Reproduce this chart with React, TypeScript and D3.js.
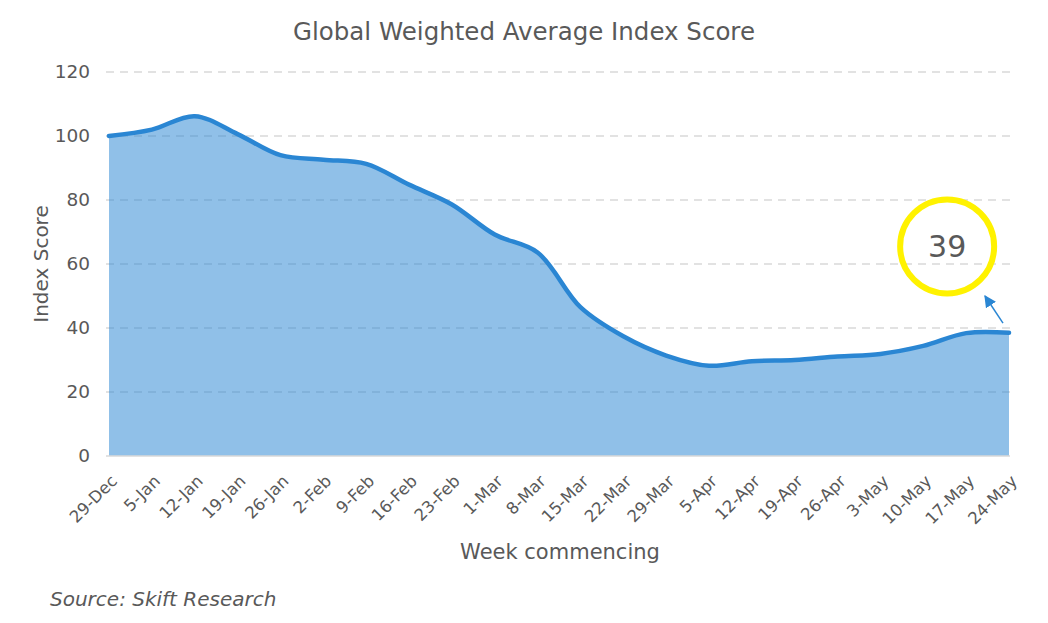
import React, { useEffect, useRef } from "react";
import * as d3 from "d3";

const weeks = [
  "29-Dec", "5-Jan", "12-Jan", "19-Jan", "26-Jan", "2-Feb", "9-Feb", "16-Feb",
  "23-Feb", "1-Mar", "8-Mar", "15-Mar", "22-Mar", "29-Mar", "5-Apr", "12-Apr",
  "19-Apr", "26-Apr", "3-May", "10-May", "17-May", "24-May",
];
const scores = [
  100, 102, 106.2, 100.6, 94, 92.6, 91.3, 84.8, 78.6, 69.2, 63.6, 46.5,
  37.4, 31.4, 28.2, 29.6, 30, 31.1, 31.9, 34.4, 38.4, 38.5,
];
const yTicks = [0, 20, 40, 60, 80, 100, 120];
const calloutLabel = "39";

const FONT = "'DejaVu Sans', 'Noto Sans', sans-serif";
const GREY = "#595959";

const App: React.FC = () => {
  const svgRef = useRef<SVGSVGElement>(null);

  useEffect(() => {
    document.body.style.margin = "0";
    if (!svgRef.current) return;
    const width = 1048;
    const height = 623;
    const svg = d3.select(svgRef.current);
    svg.selectAll("*").remove();

    const x = d3.scalePoint<string>().domain(weeks).range([109, 1009]);
    const y = d3.scaleLinear().domain([0, 120]).range([456, 72]);

    // gridlines (under the translucent area)
    svg.append("g")
      .selectAll("line")
      .data(yTicks.filter(t => t > 0))
      .enter().append("line")
      .attr("x1", 106).attr("x2", 1010)
      .attr("y1", d => y(d)).attr("y2", d => y(d))
      .attr("stroke", "#d9d9d9")
      .attr("stroke-width", 1.6)
      .attr("stroke-dasharray", "8,6");

    const pts = weeks.map((w, i) => [x(w)!, scores[i]] as [number, number]);

    const area = d3.area<[number, number]>()
      .x(d => d[0]).y0(y(0)).y1(d => y(d[1]))
      .curve(d3.curveCatmullRom.alpha(0.5));
    svg.append("path")
      .attr("d", area(pts))
      .attr("fill", "#2a86d3")
      .attr("fill-opacity", 0.52);

    // baseline
    svg.append("line")
      .attr("x1", 106).attr("x2", 1010)
      .attr("y1", y(0)).attr("y2", y(0))
      .attr("stroke", "#d9d9d9")
      .attr("stroke-width", 1.6);

    const line = d3.line<[number, number]>()
      .x(d => d[0]).y(d => y(d[1]))
      .curve(d3.curveCatmullRom.alpha(0.5));
    svg.append("path")
      .attr("d", line(pts))
      .attr("fill", "none")
      .attr("stroke", "#2a86d3")
      .attr("stroke-width", 4.5)
      .attr("stroke-linecap", "round");

    // y tick labels
    svg.append("g")
      .selectAll("text")
      .data(yTicks)
      .enter().append("text")
      .attr("x", 90).attr("y", d => y(d))
      .attr("dy", "0.35em")
      .attr("text-anchor", "end")
      .attr("font-family", FONT).attr("font-size", 18.5)
      .attr("fill", GREY)
      .text(d => d);

    // x tick labels
    svg.append("g")
      .selectAll("text")
      .data(weeks)
      .enter().append("text")
      .attr("transform", d => `translate(${x(d)! + 1},${474}) rotate(-45)`)
      .attr("text-anchor", "end")
      .attr("dy", "0.7em")
      .attr("font-family", FONT).attr("font-size", 16.5)
      .attr("fill", GREY)
      .text(d => d);

    svg.append("text")
      .attr("x", 524).attr("y", 40)
      .attr("text-anchor", "middle")
      .attr("font-family", FONT).attr("font-size", 24.5)
      .attr("fill", GREY)
      .text("Global Weighted Average Index Score");

    svg.append("text")
      .attr("transform", `translate(48,${y(60)}) rotate(-90)`)
      .attr("text-anchor", "middle")
      .attr("font-family", FONT).attr("font-size", 20)
      .attr("fill", GREY)
      .text("Index Score");

    svg.append("text")
      .attr("x", 560).attr("y", 559)
      .attr("text-anchor", "middle")
      .attr("font-family", FONT).attr("font-size", 21)
      .attr("fill", GREY)
      .text("Week commencing");

    svg.append("text")
      .attr("x", 50).attr("y", 606)
      .attr("font-family", FONT).attr("font-size", 20)
      .attr("font-style", "italic")
      .attr("fill", GREY)
      .text("Source: Skift Research");

    // callout
    const cx = x("17-May")! - 19;
    const cy = y(65.5);
    svg.append("circle")
      .attr("cx", cx).attr("cy", cy).attr("r", 47)
      .attr("fill", "none")
      .attr("stroke", "#fff200")
      .attr("stroke-width", 6);
    svg.append("text")
      .attr("x", cx).attr("y", cy)
      .attr("dy", "0.36em")
      .attr("text-anchor", "middle")
      .attr("font-family", FONT).attr("font-size", 30)
      .attr("fill", GREY)
      .text(calloutLabel);

    const defs = svg.append("defs");
    defs.append("marker")
      .attr("id", "arrowHead")
      .attr("viewBox", "0 0 10 10")
      .attr("refX", 9).attr("refY", 5)
      .attr("markerWidth", 8).attr("markerHeight", 8)
      .attr("orient", "auto")
      .append("path")
      .attr("d", "M0,0 L10,5 L0,10 z")
      .attr("fill", "#2a86d3");
    svg.append("line")
      .attr("x1", x("24-May")! - 6).attr("y1", y(41.5))
      .attr("x2", x("24-May")! - 24).attr("y2", y(50))
      .attr("stroke", "#2a86d3")
      .attr("stroke-width", 1.5)
      .attr("marker-end", "url(#arrowHead)");

    svg.attr("width", width).attr("height", height);
  }, []);

  return <svg ref={svgRef} width={1048} height={623} style={{ display: "block" }} />;
};

export default App;
